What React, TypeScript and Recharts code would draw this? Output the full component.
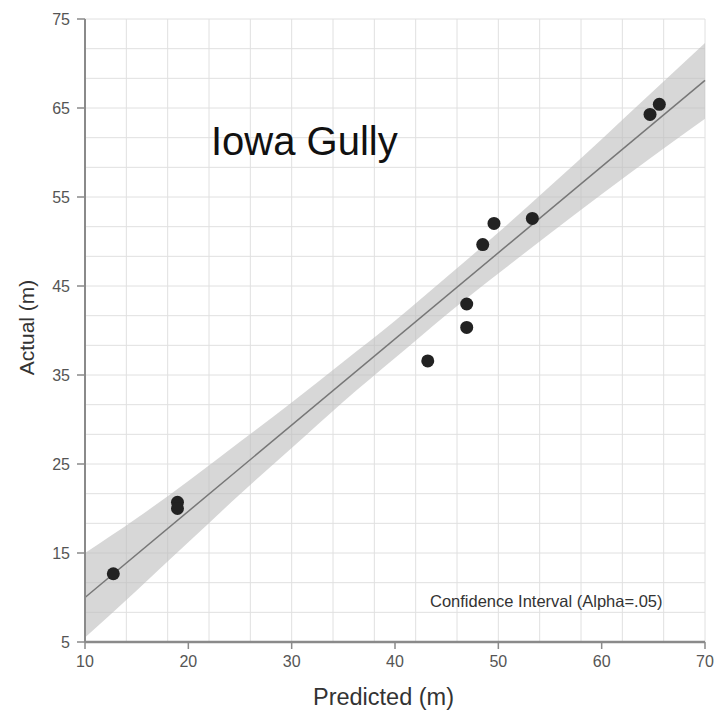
import { ComposedChart, Area, Line, Scatter, XAxis, YAxis, CartesianGrid } from 'recharts'

const predicted = [12.74, 18.95, 18.95, 43.17, 46.94, 46.94, 48.49, 49.58, 53.29, 64.68, 65.58]
const actual = [12.67, 20.69, 20.0, 36.58, 40.35, 42.98, 49.65, 52.03, 52.59, 64.28, 65.41]

// fitted line end points
const fitX = [10, 70]
const fitY = [10.0, 68.1]

// confidence band (alpha = .05)
const bandX = [10, 15, 20, 25, 30, 35, 40, 45, 50, 55, 60, 65, 70]
const bandLow = [5.5, 10.8, 16.2, 21.6, 26.8, 32.0, 36.9, 41.8, 46.4, 50.9, 55.3, 59.6, 63.8]
const bandHigh = [15.0, 18.9, 23.1, 27.5, 31.9, 36.5, 41.1, 46.0, 51.0, 56.2, 61.5, 66.9, 72.3]

const xTicks = [10, 20, 30, 40, 50, 60, 70]
const yTicks = [5, 15, 25, 35, 45, 55, 65, 75]

// grid: every 2 on x, thirds of 10 on y
const gridX = Array.from({ length: 31 }, (_, i) => 10 + i * 2)
const gridY = Array.from({ length: 22 }, (_, i) => 5 + (i * 10) / 3)

const points = predicted.map((x, i) => ({ x, y: actual[i] }))
const fit = fitX.map((x, i) => ({ x, y: fitY[i] }))
const band = bandX.map((x, i) => ({ x, range: [bandLow[i], bandHigh[i]] }))

const FONT = '"Liberation Sans", Arial, sans-serif'
const tickStyle = { fontSize: 16, fill: '#555', fontFamily: FONT }

export default function App() {
  return (
    <div style={{ position: 'absolute', left: 0, top: 0, width: 716, height: 712, background: '#fff' }}>
      <ComposedChart width={716} height={712} margin={{ top: 19, right: 11, left: 25, bottom: 25 }}>
        <CartesianGrid
          stroke="#e0e0e0"
          strokeWidth={1}
          verticalValues={gridX}
          horizontalValues={gridY}
        />
        <XAxis
          type="number"
          dataKey="x"
          domain={[10, 70]}
          ticks={xTicks}
          height={45}
          tickSize={7}
          tickMargin={7}
          tick={tickStyle}
          axisLine={{ stroke: '#8a8a8a', strokeWidth: 2.5 }}
          tickLine={{ stroke: '#8a8a8a', strokeWidth: 1.5 }}
        />
        <YAxis
          type="number"
          domain={[5, 75]}
          ticks={yTicks}
          width={60}
          tickSize={8}
          tickMargin={7}
          tick={tickStyle}
          axisLine={{ stroke: '#8a8a8a', strokeWidth: 2 }}
          tickLine={{ stroke: '#8a8a8a', strokeWidth: 1.5 }}
        />
        <Area
          data={band}
          dataKey="range"
          type="monotone"
          stroke="none"
          fill="#bcbcbc"
          fillOpacity={0.6}
          isAnimationActive={false}
        />
        <Line
          data={fit}
          dataKey="y"
          stroke="#777"
          strokeWidth={1.5}
          dot={false}
          isAnimationActive={false}
        />
        <Scatter
          data={points}
          dataKey="y"
          fill="#222"
          shape={(p: any) => <circle cx={p.cx} cy={p.cy} r={6.5} fill="#222" />}
          isAnimationActive={false}
        />
      </ComposedChart>
      <svg
        width={716}
        height={712}
        style={{ position: 'absolute', left: 0, top: 0, pointerEvents: 'none' }}
      >
        <text x={211} y={155} fontSize={40} fill="#111" fontFamily={FONT}>
          Iowa Gully
        </text>
        <text x={430} y={607} fontSize={16.5} fill="#333" fontFamily={FONT}>
          Confidence Interval (Alpha=.05)
        </text>
        <text x={383.5} y={705} fontSize={23.5} fill="#333" fontFamily={FONT} textAnchor="middle">
          Predicted (m)
        </text>
        <text
          x={34}
          y={327.5}
          fontSize={21}
          fill="#333"
          fontFamily={FONT}
          textAnchor="middle"
          transform="rotate(-90 34 327.5)"
        >
          Actual (m)
        </text>
      </svg>
    </div>
  )
}
